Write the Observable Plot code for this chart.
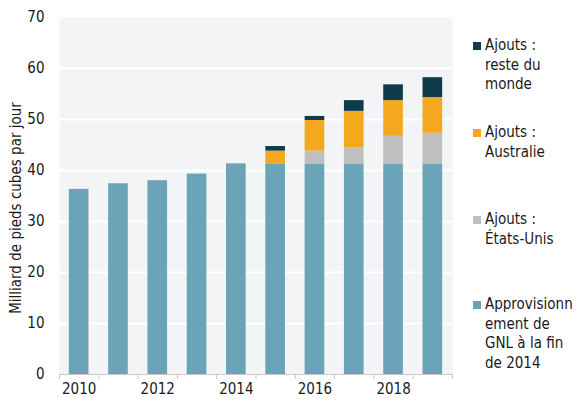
<!DOCTYPE html>
<html>
<head>
<meta charset="utf-8">
<script src="https://cdn.jsdelivr.net/npm/d3@7"></script>
<script src="https://cdn.jsdelivr.net/npm/@observablehq/plot@0.6"></script>
<style>
  html, body { margin: 0; padding: 0; background: #fff; }
  #wrap { position: relative; width: 580px; height: 406px; font-family: "DejaVu Sans Condensed", "DejaVu Sans", sans-serif; }
  #legend { position: absolute; left: 473px; top: 0; font-size: 15px; line-height: 19.5px; color: #1a1a1a; }
  .item { position: absolute; left: 0; white-space: nowrap; }
  .sw { position: absolute; left: 0; top: 6px; width: 8px; height: 8px; }
  .lbl { position: absolute; left: 12px; top: 0; }
</style>
</head>
<body>
<div id="wrap"></div>
<script>
const years = [2010, 2011, 2012, 2013, 2014, 2015, 2016, 2017, 2018, 2019];
const seriesNames = [
  "Approvisionnement de GNL à la fin de 2014",
  "Ajouts : États-Unis",
  "Ajouts : Australie",
  "Ajouts : reste du monde"
];
const base = [36.3, 37.4, 38.0, 39.3, 41.3, 41.3, 41.3, 41.3, 41.3, 41.3];
const usAdds = [0, 0, 0, 0, 0, 0, 2.5, 3.1, 5.4, 6.0];
const auAdds = [0, 0, 0, 0, 0, 2.5, 6.0, 7.2, 7.0, 7.0];
const rowAdds = [0, 0, 0, 0, 0, 0.9, 0.8, 2.1, 3.1, 3.9];
const colors = ["#6ba3b8", "#bfbfbf", "#f4a81d", "#0f3b4b"];
const yTicks = [0, 10, 20, 30, 40, 50, 60, 70];
const xLabelTicks = [2010, 2012, 2014, 2016, 2018];
const yLabel = "Milliard de pieds cubes par jour";
const legendLines = [
  ["Ajouts :", "reste du", "monde"],
  ["Ajouts :", "Australie"],
  ["Ajouts :", "États-Unis"],
  ["Approvisionn", "ement de", "GNL à la fin", "de 2014"]
];
const legendColors = [colors[3], colors[2], colors[1], colors[0]];

const seriesValues = [base, usAdds, auAdds, rowAdds];
const data = [];
years.forEach((yr, i) => {
  seriesValues.forEach((vals, s) => {
    if (vals[i] > 0) data.push({year: yr, series: seriesNames[s], value: vals[i]});
  });
});

const font = '"DejaVu Sans Condensed", "DejaVu Sans", sans-serif';
const chart = Plot.plot({
  width: 580,
  height: 406,
  marginLeft: 59,
  marginRight: 128,
  marginTop: 17,
  marginBottom: 32,
  style: {fontFamily: font, fontSize: "15px", color: "#1a1a1a", background: "transparent"},
  x: {domain: [years[0] - 0.5, years[years.length - 1] + 0.5], label: null},
  y: {domain: [0, 70], label: null},
  color: {domain: seriesNames, range: colors},
  marks: [
    Plot.frame({fill: "#f3f4f6", stroke: null}),
    Plot.gridY(yTicks.slice(1, -1), {stroke: "white", strokeOpacity: 1, strokeWidth: 2}),
    Plot.rectY(data, Plot.stackY({
      x1: d => d.year - 0.25,
      x2: d => d.year + 0.25,
      y: "value",
      fill: "series",
      order: seriesNames
    })),
    Plot.ruleY([0], {stroke: "#c8c8c8"}),
    Plot.axisX({ticks: d3.range(years[0] - 0.5, years[years.length - 1] + 1, 1), tickSize: 5, stroke: "#c8c8c8", tickFormat: () => "", label: null}),
    Plot.axisX({ticks: xLabelTicks, tickSize: 0, tickPadding: 9, tickFormat: d => String(d), label: null}),
    Plot.axisY({ticks: yTicks, tickSize: 0, tickPadding: 15, label: null}),
    Plot.text([yLabel], {text: d => d, frameAnchor: "left", rotate: -90, dx: -43, dy: 12, textAnchor: "middle", fontSize: 15, fill: "#1a1a1a"})
  ]
});
const wrap = document.getElementById("wrap");
wrap.appendChild(chart);

const legend = document.createElement("div");
legend.id = "legend";
const tops = [36, 123, 210, 295];
legendLines.forEach((lines, i) => {
  const item = document.createElement("div");
  item.className = "item";
  item.style.top = tops[i] + "px";
  const sw = document.createElement("div");
  sw.className = "sw";
  sw.style.background = legendColors[i];
  const lbl = document.createElement("div");
  lbl.className = "lbl";
  lines.forEach((t, j) => {
    if (j) lbl.appendChild(document.createElement("br"));
    lbl.appendChild(document.createTextNode(t));
  });
  item.appendChild(sw);
  item.appendChild(lbl);
  legend.appendChild(item);
});
wrap.appendChild(legend);
</script>
</body>
</html>
